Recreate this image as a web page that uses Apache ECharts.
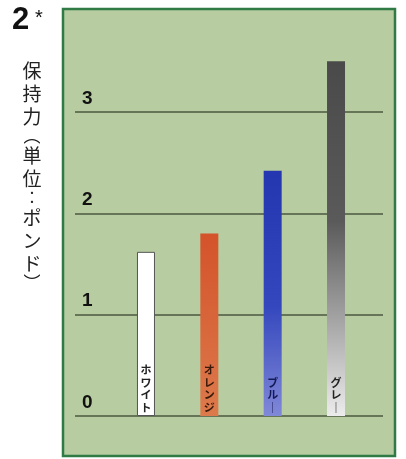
<!DOCTYPE html>
<html><head><meta charset="utf-8">
<script src="https://cdn.jsdelivr.net/npm/echarts@6/dist/echarts.min.js"></script>
<style>html,body{margin:0;padding:0;background:#fff}#c{width:406px;height:459px}</style>
</head><body><div id="c"></div>
<script>
const categories = ['ホワイト', 'オレンジ', 'ブルー', 'グレー'];
const values = [1.62, 1.80, 2.42, 3.50];
const yTicks = [0, 1, 2, 3];
const yTitle = '保持力(単位:ポンド)';
const figLabel = '2';

const vertMap = {'ー':'｜','(':'︵',')':'︶',':':'︰'};
const small = {'(':1,')':1,':':1};

const barColors = [
  '#ffffff',
  new echarts.graphic.LinearGradient(0,0,0,1,[{offset:0,color:'#d4532a'},{offset:1,color:'#dc7a4c'}]),
  new echarts.graphic.LinearGradient(0,0,0,1,[{offset:0,color:'#2436b0'},{offset:0.55,color:'#3447bd'},{offset:1,color:'#8088d8'}]),
  new echarts.graphic.LinearGradient(0,0,0,1,[{offset:0,color:'#4a4a4a'},{offset:0.45,color:'#5a5a5a'},{offset:1,color:'#ececec'}])
];
const labelColors = ['#222','#3a1a0a','#141a55','#222'];

const titleRich = yTitle.split('').map(ch => small[ch] ? '{p|'+vertMap[ch]+'}' : '{k|'+ch+'}').join('\n');

const chart = echarts.init(document.getElementById('c'));
chart.setOption({
  animation: false,
  backgroundColor: '#fff',
  graphic: [
    {type:'rect', z:-10, shape:{x:63,y:9,width:332,height:447}, style:{fill:'#b7cca0', stroke:'#2f7a45', lineWidth:2.5}},
    {type:'text', left:12, top:5, style:{text:figLabel, font:'bold 31px "Liberation Sans", Arial, sans-serif', fill:'#111'}},
    {type:'text', left:35, top:8, style:{text:'*', font:'20px "Liberation Sans", Arial, sans-serif', fill:'#111'}},
    {type:'text', x:32, y:59, style:{
      text: titleRich, align:'center', verticalAlign:'top', fill:'#222',
      rich:{
        k:{fontSize:19, lineHeight:23, fontFamily:'"Noto Sans CJK JP"', fill:'#222'},
        p:{fontSize:17, lineHeight:16, fontFamily:'"Noto Sans CJK JP"', fill:'#222'}
      }}}
  ],
  grid: [
    {left:75, right:23, top:112, bottom:43},
    {left:114.3, right:38.3, top:112, bottom:43}
  ],
  xAxis: [
    {type:'category', gridIndex:0, data:categories, show:false},
    {type:'category', gridIndex:1, data:categories, show:false}
  ],
  yAxis: [
    {type:'value', gridIndex:0, min:yTicks[0], max:yTicks[yTicks.length-1], interval:1,
     axisLine:{show:false}, axisTick:{show:false},
     splitLine:{show:true, lineStyle:{color:'#4b5740', width:1.5}},
     axisLabel:{inside:true, align:'left', verticalAlign:'bottom', margin:7, color:'#111',
       fontSize:19, fontWeight:'bold', fontFamily:'"Liberation Sans", Arial, sans-serif',
       padding:[0,0,4,0]}},
    {type:'value', gridIndex:1, min:yTicks[0], max:yTicks[yTicks.length-1], show:false, splitLine:{show:false}}
  ],
  series: [{
    type:'bar', xAxisIndex:1, yAxisIndex:1, clip:false, barWidth:18,
    data: values.map((v,i) => ({
      value:v,
      itemStyle:{color:barColors[i], borderColor: i===0 ? '#555' : 'transparent', borderWidth: i===0 ? 1 : 0},
      label:{color:labelColors[i]}
    })),
    label:{show:true, position:'insideBottom', distance:2,
      fontSize:11, fontWeight:'bold', lineHeight:12.5, fontFamily:'"Noto Sans CJK JP"',
      formatter: p => categories[p.dataIndex].split('').map(ch => vertMap[ch] || ch).join('\n')}
  }]
});
</script></body></html>
